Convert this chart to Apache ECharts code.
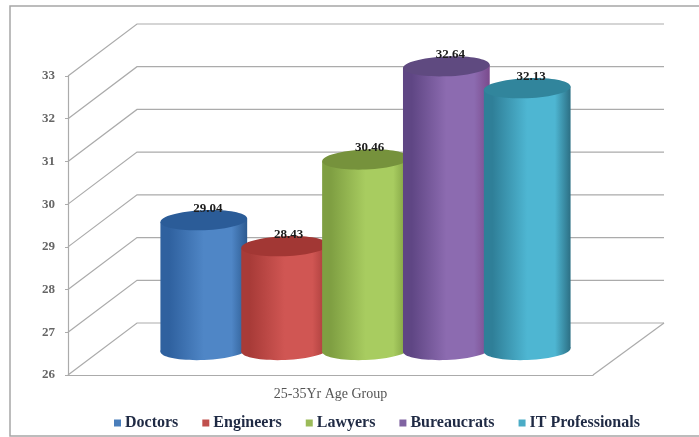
<!DOCTYPE html>
<html>
<head>
<meta charset="utf-8">
<style>html,body{margin:0;padding:0;background:#fff}#c{width:699px;height:437px}</style>
<script src="https://cdn.jsdelivr.net/npm/echarts@6/dist/echarts.min.js"></script>
</head>
<body>
<div id="c"></div>
<script>
const categories = ['25-35Yr Age Group'];
const seriesNames = ['Doctors', 'Engineers', 'Lawyers', 'Bureaucrats', 'IT Professionals'];
const seriesValues = [29.04, 28.43, 30.46, 32.64, 32.13];
const yTicks = [26, 27, 28, 29, 30, 31, 32, 33];
const baseColors = ['#4a7ebb', '#c0504d', '#9bbb59', '#8064a2', '#4bacc6'];
const edgeLeft = ['#2f619f', '#a83b38', '#7f9f42', '#5f4684', '#2f7f98'];
const centerColors = ['#4f86c6', '#d05653', '#a8cc60', '#8c6bb0', '#4eb6d2'];
const edgeRight = ['#2c5a90', '#a43a38', '#7a9a3e', '#7a4a8c', '#2c6f84'];
const topColors = ['#2b5c98', '#a23734', '#76923c', '#5f4a80', '#31859c'];

const FONT = '"Liberation Serif", serif';
const DEPTH_X = 69, DEPTH_Y = -52;      // full floor depth
const MID_X = 35, MID_Y = -25;          // plane the cylinders stand on
const SLOT = 0.154, RX_SLOT = 0.081, RY = 10, TILT = 0.04;

function wallItem(params, api) {
  const cs = params.coordSys;
  const p = api.coord([0, api.value(0)]);
  const left = cs.x, right = cs.x + cs.width, y = p[1];
  const children = [{
    type: 'polyline',
    shape: { points: [[left, y], [left + DEPTH_X, y + DEPTH_Y], [right + DEPTH_X + 2, y + DEPTH_Y]] },
    style: { stroke: '#ababab', lineWidth: 1.2, fill: null }
  }];
  if (api.value(0) === yTicks[0]) {
    children.push({
      type: 'polyline',
      shape: { points: [[right, y], [right + DEPTH_X + 2, y + DEPTH_Y]] },
      style: { stroke: '#ababab', lineWidth: 1.2, fill: null }
    });
  }
  return { type: 'group', children };
}

function cylinderItem(i) {
  return function (params, api) {
    const band = api.size([1, 0])[0];
    const top = api.coord([0, api.value(1)]);
    const base = api.coord([0, yTicks[0]]);
    const cx = top[0] + (i - 2) * SLOT * band + MID_X;
    const rx = RX_SLOT * band * 1.02;
    const yT = top[1] + MID_Y;
    const yB = base[1] + MID_Y;
    const dy = rx * Math.sin(TILT);
    const fill = {
      type: 'linear', x: 0, y: 0, x2: 1, y2: 0,
      colorStops: [
        { offset: 0, color: edgeLeft[i] },
        { offset: 0.1, color: edgeLeft[i] },
        { offset: 0.5, color: centerColors[i] },
        { offset: 0.82, color: centerColors[i] },
        { offset: 1, color: edgeRight[i] }
      ]
    };
    return {
      type: 'group',
      children: [
        { type: 'ellipse', x: cx, y: yB, rotation: TILT, shape: { cx: 0, cy: 0, rx, ry: RY }, style: { fill } },
        { type: 'polygon', shape: { points: [[cx - rx, yT + dy], [cx + rx, yT - dy], [cx + rx, yB - dy], [cx - rx, yB + dy]] }, style: { fill } },
        { type: 'ellipse', x: cx, y: yT, rotation: TILT, shape: { cx: 0, cy: 0, rx, ry: RY }, style: { fill: topColors[i] } },
        { type: 'text', x: cx + 4, y: yT - 12, style: {
            text: api.value(1).toFixed(2), font: 'bold 13px ' + FONT, fill: '#1c1c1c', textAlign: 'center', textVerticalAlign: 'middle' } }
      ]
    };
  };
}

const chart = echarts.init(document.getElementById('c'));
chart.setOption({
  animation: false,
  backgroundColor: '#fff',
  graphic: [{ type: 'rect', shape: { x: 10, y: 6, width: 720, height: 430 }, style: { fill: null, stroke: '#a6a6a6', lineWidth: 1.5 }, silent: true }],
  grid: { left: 68, top: 76, width: 525, height: 299 },
  legend: {
    data: seriesNames, left: 109, top: 410, icon: 'rect', itemWidth: 7, itemHeight: 7, itemGap: 24,
    textStyle: { fontFamily: FONT, fontWeight: 'bold', fontSize: 16, color: '#1f2a44', padding: [0, 0, 0, -1] }
  },
  xAxis: {
    type: 'category', data: categories,
    axisLine: { lineStyle: { color: '#ababab', width: 1.2 } }, axisTick: { show: false },
    axisLabel: { fontFamily: FONT, fontSize: 14, color: '#555', margin: 12 }
  },
  yAxis: {
    type: 'value', min: yTicks[0], max: yTicks[yTicks.length - 1], interval: 1,
    splitLine: { show: false },
    axisLine: { show: true, lineStyle: { color: '#ababab', width: 1.2 } },
    axisTick: { show: true, length: 3, lineStyle: { color: '#ababab' } },
    axisLabel: { fontFamily: FONT, fontSize: 13, fontWeight: 'bold', color: '#666', margin: 13, padding: [4, 0, 0, 0] }
  },
  series: [
    { type: 'custom', name: 'walls', silent: true, z: 1, clip: false, data: yTicks.map(t => [t]), encode: { y: 0 }, renderItem: wallItem }
  ].concat(seriesNames.map((name, i) => ({
    type: 'custom', name, z: 2 + i, clip: false,
    itemStyle: { color: baseColors[i] },
    data: [[0, seriesValues[i]]], encode: { x: 0, y: 1 },
    renderItem: cylinderItem(i)
  })))
});
</script>
</body>
</html>
